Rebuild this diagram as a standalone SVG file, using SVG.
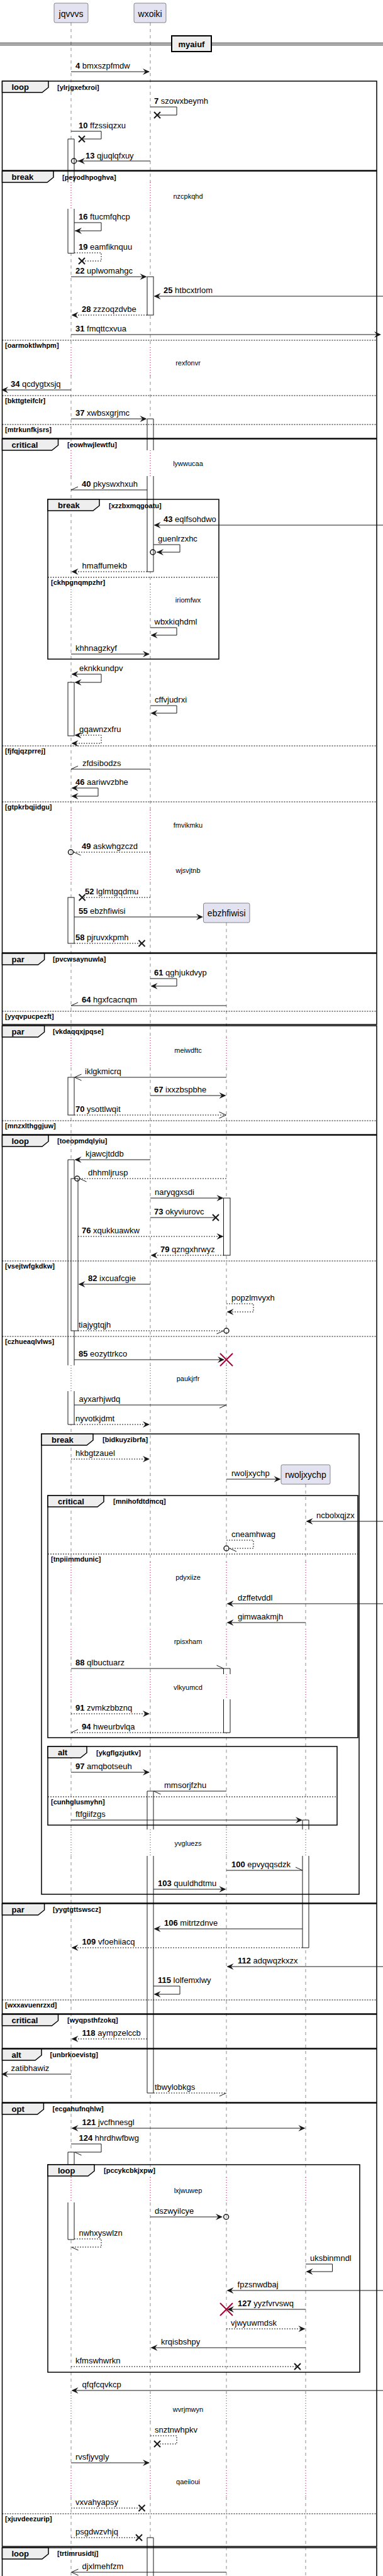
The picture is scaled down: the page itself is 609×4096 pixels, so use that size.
<svg xmlns="http://www.w3.org/2000/svg" width="609" height="4096" viewBox="0 0 609 4096">
<style>
.ll{stroke:#181818;stroke-width:0.5;stroke-dasharray:5,5;fill:none}
.dl{stroke:#A80036;stroke-width:1;stroke-dasharray:1,3;fill:none}
.act{fill:#fff;stroke:#181818;stroke-width:1}
.m{stroke:#181818;stroke-width:1;fill:none}
.d{stroke-dasharray:2,2}
.fr{fill:none;stroke:#000;stroke-width:1.5}
.tab{fill:#EEEEEE;stroke:#000;stroke-width:1.5}
.sep{stroke:#000;stroke-width:1;stroke-dasharray:2,2}
text{font-family:"Liberation Sans",Arial,sans-serif;fill:#000}
.t{font-size:13px}
.n{font-weight:bold}
.kw{font-size:13px;font-weight:bold}
.cond{font-size:11px;font-weight:bold}
.dt{font-size:11px;text-anchor:middle}
.pt{font-size:14px;text-anchor:middle}
.box{fill:#E2E2F0;stroke:#181818;stroke-width:0.5}
.c{fill:none;stroke:#181818;stroke-width:1.5}
</style>
<defs>
<path id="fa" d="M0,0 L-11,-5 L-7,0 L-11,5 Z" fill="#181818"/>
<path id="fal" d="M0,0 L11,-5 L7,0 L11,5 Z" fill="#181818"/>
<path id="oa" d="M-11,-5 L0,0 L-11,5" fill="none" stroke="#181818"/>
<path id="oal" d="M11,-5 L0,0 L11,5" fill="none" stroke="#181818"/>
<path id="hu" d="M-11,-5 L0,0" fill="none" stroke="#181818"/>
<path id="hl" d="M-11,5 L0,0" fill="none" stroke="#181818"/>
<path id="hul" d="M11,-5 L0,0" fill="none" stroke="#181818"/>
<path id="hll" d="M11,5 L0,0" fill="none" stroke="#181818"/>
<path id="lx" d="M-5,-5 L5,5 M-5,5 L5,-5" fill="none" stroke="#181818" stroke-width="2"/>
<path id="rx" d="M-10,-10 L10,10 M-10,10 L10,-10" fill="none" stroke="#A80036" stroke-width="2"/>
</defs>
<rect width="609" height="4096" fill="#fff"/>

<g id="lifelines">
<path class="ll" d="M113,36V290M113,332V552M113,597V716M113,757V929M113,973V1288M113,1333V1358M113,1402V1650M113,1697V2171M113,2212V2484M113,2530V2590M113,2634V2662M113,2702V2909M113,2951V3462M113,3502V3805M113,3850V3928M113,3970V4096"/>
<path class="ll" d="M239,36V290M239,332V552M239,597V716M239,757V929M239,973V1288M239,1333V1358M239,1402V1650M239,1697V2171M239,2212V2484M239,2530V2590M239,2634V2662M239,2702V2909M239,2951V3462M239,3502V3805M239,3850V3928M239,3970V4096"/>
<path class="ll" d="M360,1467V1650M360,1697V2171M360,2212V2484M360,2530V2590M360,2634V2662M360,2702V2909M360,2951V3462M360,3502V3805M360,3850V3928M360,3970V4096"/>
<path class="ll" d="M486,2360V2484M486,2530V2590M486,2634V2662M486,2702V2909M486,2951V3462M486,3502V3805M486,3850V3928M486,3970V4096"/>
</g>

<g id="delays">
<path class="dl" d="M113,290V332M239,290V332M113,552V597M239,552V597M113,716V757M239,716V757M113,929V973M239,929V973M113,1288V1333M239,1288V1333M113,1358V1402M239,1358V1402M113,1650V1697M239,1650V1697M360,1650V1697M113,2171V2212M239,2171V2212M360,2171V2212M113,2484V2530M239,2484V2530M360,2484V2530M486,2484V2530M113,2590V2634M239,2590V2634M360,2590V2634M486,2590V2634M113,2662V2702M239,2662V2702M360,2662V2702M486,2662V2702M113,2909V2951M239,2909V2951M360,2909V2951M486,2909V2951M113,3462V3502M239,3462V3502M360,3462V3502M486,3462V3502M113,3805V3850M239,3805V3850M360,3805V3850M486,3805V3850M113,3928V3970M239,3928V3970M360,3928V3970M486,3928V3970"/>
<text class="dt" x="299" y="316">nzcpkqhd</text>
<text class="dt" x="299" y="581">rexfonvr</text>
<text class="dt" x="299" y="741">lywwucaa</text>
<text class="dt" x="299" y="958">iriomfwx</text>
<text class="dt" x="299" y="1316">fmvikmku</text>
<text class="dt" x="299" y="1388">wjsvjtnb</text>
<text class="dt" x="299" y="1674">meiwdftc</text>
<text class="dt" x="299" y="2196">paukjrfr</text>
<text class="dt" x="299" y="2512">pdyxiize</text>
<text class="dt" x="299" y="2614">rpisxham</text>
<text class="dt" x="299" y="2687">vlkyumcd</text>
<text class="dt" x="299" y="2935">yvgluezs</text>
<text class="dt" x="299" y="3487">lxjwuwep</text>
<text class="dt" x="299" y="3835">wvrjmwyn</text>
<text class="dt" x="299" y="3950">qaeiioui</text>
</g>

<g id="activations">
<path class="act" d="M108,290V221H118V290"/>
<path class="act" d="M108,332V402.7H118V332"/>
<rect class="act" x="108" y="1085" width="10" height="85"/>
<rect class="act" x="108" y="1427" width="10" height="73"/>
<rect class="act" x="108" y="1713" width="10" height="60"/>
<path class="act" d="M108,2171V1844H118V2171"/>
<path class="act" d="M108,2212V2265H118V2212"/>
<rect class="act" x="113" y="1874" width="11" height="242"/>
<path class="act" d="M108,3442V3422H118V3442"/>
<path class="act" d="M108,3502V3561H118V3502"/>
<rect class="act" x="234" y="440" width="10" height="61"/>
<path class="act" d="M234,716V666H244V716"/>
<path class="act" d="M234,757V909H244V757"/>
<path class="act" d="M234,2909V2848H244V2909"/>
<path class="act" d="M234,2951V3328H244V2951"/>
<path class="act" d="M234,4100V4035H244V4100"/>
<rect class="act" x="355.5" y="1905" width="10.5" height="91"/>
<path class="act" d="M355.5,2662V2653H366V2662"/>
<path class="act" d="M355.5,2702V2755H366V2702"/>
<path class="act" d="M481,2909V2894H491V2909"/>
<path class="act" d="M481,2951V3097H491V2951"/>
</g>

<g id="frames">
<rect class="fr" x="3.5" y="129" width="595.5" height="142"/>
<polygon class="tab" points="3.5,129 77,129 77,139 67,147 3.5,147"/>
<text class="kw" x="18.5" y="143">loop</text><text class="cond" x="91" y="142.5">[ylrjgxefxroi]</text>

<rect class="fr" x="3.5" y="272" width="595.5" height="425"/>
<polygon class="tab" points="3.5,272 85,272 85,282 75,290 3.5,290"/>
<text class="kw" x="18.5" y="286">break</text><text class="cond" x="99" y="285.5">[peyodhpoghva]</text>
<path class="sep" d="M3.5,541H599M3.5,629H599M3.5,675H599"/>
<text class="cond" x="8" y="552.5">[oarmoktlwhpm]</text>
<text class="cond" x="8" y="640.5">[bkttgteifclr]</text>
<text class="cond" x="8" y="686.5">[mtrkunfkjsrs]</text>

<rect class="fr" x="3.5" y="698" width="595.5" height="817"/>
<polygon class="tab" points="3.5,698 92.5,698 92.5,708 82.5,716 3.5,716"/>
<text class="kw" x="18.5" y="712">critical</text><text class="cond" x="107" y="711">[eowhwjlewtfu]</text>
<path class="sep" d="M3.5,1186H599M3.5,1275H599"/>
<text class="cond" x="8" y="1197.5">[fjfqjqzprrej]</text>
<text class="cond" x="8" y="1286.5">[gtpkrbqjidgu]</text>

<rect class="fr" x="76" y="794" width="272" height="254"/>
<polygon class="tab" points="76,794 158,794 158,804 148,812 76,812"/>
<text class="kw" x="92" y="808">break</text><text class="cond" x="173" y="807.5">[xzzbxmqgoatu]</text>
<path class="sep" d="M76,918H348"/>
<text class="cond" x="81" y="929.5">[ckhpgnqmpzhr]</text>

<rect class="fr" x="3.5" y="1516" width="595.5" height="113"/>
<polygon class="tab" points="3.5,1516 70.6,1516 70.6,1526 60.6,1534 3.5,1534"/>
<text class="kw" x="18.5" y="1530">par</text><text class="cond" x="84" y="1529">[pvcwsaynuwla]</text>
<path class="sep" d="M3.5,1608H599"/>
<text class="cond" x="8" y="1619.5">[yyqvpucpezft]</text>

<rect class="fr" x="3.5" y="1631" width="595.5" height="173"/>
<polygon class="tab" points="3.5,1631 70.6,1631 70.6,1641 60.6,1649 3.5,1649"/>
<text class="kw" x="18.5" y="1645">par</text><text class="cond" x="84" y="1644">[vkdaqqxjpqse]</text>
<path class="sep" d="M3.5,1782H599"/>
<text class="cond" x="8" y="1793.5">[mnzxlthggjuw]</text>

<rect class="fr" x="3.5" y="1805" width="595.5" height="1221"/>
<polygon class="tab" points="3.5,1805 77,1805 77,1815 67,1823 3.5,1823"/>
<text class="kw" x="18.5" y="1819">loop</text><text class="cond" x="91" y="1818">[toeopmdqlyiu]</text>
<path class="sep" d="M3.5,2005H599M3.5,2125H599"/>
<text class="cond" x="8" y="2016.5">[vsejtwfgkdkw]</text>
<text class="cond" x="8" y="2136.5">[czhueaqlvlws]</text>

<rect class="fr" x="66" y="2280" width="505" height="732"/>
<polygon class="tab" points="66,2280 148,2280 148,2290 138,2298 66,2298"/>
<text class="kw" x="82" y="2294">break</text><text class="cond" x="163" y="2293">[bidkuyzibrfa]</text>

<rect class="fr" x="76" y="2378" width="493" height="385"/>
<polygon class="tab" points="76,2378 165,2378 165,2388 155,2396 76,2396"/>
<text class="kw" x="92" y="2392">critical</text><text class="cond" x="180" y="2391">[mnihofdtdmcq]</text>
<path class="sep" d="M76,2471H569"/>
<text class="cond" x="81" y="2482.5">[tnpiimmdunic]</text>

<rect class="fr" x="76" y="2777" width="460" height="125"/>
<polygon class="tab" points="76,2777 138,2777 138,2787 128,2795 76,2795"/>
<text class="kw" x="92" y="2791">alt</text><text class="cond" x="153" y="2790.5">[ykgflgzjutkv]</text>
<path class="sep" d="M76,2857H536"/>
<text class="cond" x="81" y="2868.5">[cunhglusmyhn]</text>

<rect class="fr" x="3.5" y="3027" width="595.5" height="175"/>
<polygon class="tab" points="3.5,3027 70.6,3027 70.6,3037 60.6,3045 3.5,3045"/>
<text class="kw" x="18.5" y="3041">par</text><text class="cond" x="84" y="3040">[yygtgttswscz]</text>
<path class="sep" d="M3.5,3180H599"/>
<text class="cond" x="8" y="3191.5">[wxxavuenrzxd]</text>

<rect class="fr" x="3.5" y="3203" width="595.5" height="54"/>
<polygon class="tab" points="3.5,3203 92.5,3203 92.5,3213 82.5,3221 3.5,3221"/>
<text class="kw" x="18.5" y="3217">critical</text><text class="cond" x="107" y="3216">[wyqpsthfzokq]</text>

<rect class="fr" x="3.5" y="3258" width="595.5" height="85"/>
<polygon class="tab" points="3.5,3258 66,3258 66,3268 56,3276 3.5,3276"/>
<text class="kw" x="18.5" y="3272">alt</text><text class="cond" x="79.6" y="3271">[unbrkoevistg]</text>

<rect class="fr" x="3.5" y="3344" width="595.5" height="705"/>
<polygon class="tab" points="3.5,3344 69.4,3344 69.4,3354 59.4,3362 3.5,3362"/>
<text class="kw" x="18.5" y="3358">opt</text><text class="cond" x="83.5" y="3357">[ecgahufnqhlw]</text>
<path class="sep" d="M3.5,3997H599"/>
<text class="cond" x="8" y="4008.5">[xjuvdeezurip]</text>

<rect class="fr" x="76" y="3442" width="496" height="330"/>
<polygon class="tab" points="76,3442 150,3442 150,3452 140,3460 76,3460"/>
<text class="kw" x="92" y="3456">loop</text><text class="cond" x="165" y="3455">[pccykcbkjxpw]</text>

<rect class="fr" x="3.5" y="4051" width="595.5" height="70"/>
<polygon class="tab" points="3.5,4051 77,4051 77,4061 67,4069 3.5,4069"/>
<text class="kw" x="18.5" y="4065">loop</text><text class="cond" x="91" y="4064">[trtimrusidtj]</text>
</g>

<g id="divider-myaiuf">
<path d="M0,68.5H609M0,71.5H609" stroke="#000" stroke-width="1"/>
<rect x="273" y="57" width="63" height="25" fill="#EEEEEE" stroke="#000" stroke-width="2"/>
<text class="kw" x="304.5" y="74.5" text-anchor="middle">myaiuf</text>
</g>

<g id="jqvvvs">
<rect class="box" x="86" y="5" width="54" height="31" rx="2.5"/>
<text class="pt" x="113" y="27">jqvvvs</text>
</g>
<g id="wxoiki">
<rect class="box" x="213" y="5" width="51" height="31" rx="2.5"/>
<text class="pt" x="238.6" y="27">wxoiki</text>
</g>
<g id="ebzhfiwisi">
<rect class="box" x="323.5" y="1436" width="73.5" height="31" rx="2.5"/>
<text class="pt" x="360.2" y="1456.5">ebzhfiwisi</text>
</g>
<g id="rwoljxychp">
<rect class="box" x="447" y="2329" width="78" height="31" rx="2.5"/>
<text class="pt" x="486" y="2349.5">rwoljxychp</text>
</g>

<g id="connectors">
<path class="m" d="M113,114H237"/><use href="#fa" x="238" y="114"/>
<text class="t" x="120" y="108.5"><tspan class="n">4</tspan> bmxszpfmdw</text>

<path class="m" d="M239,170H281V183H250"/><use href="#lx" x="250" y="183"/>
<text class="t" x="245" y="165"><tspan class="n">7</tspan> szowxbeymh</text>

<path class="m" d="M113,208.7H161V221H130"/><use href="#lx" x="130" y="221"/>
<text class="t" x="125" y="203.5"><tspan class="n">10</tspan> ffzssiqzxu</text>

<path class="m" d="M239,256H121.5"/><circle class="c" cx="117.5" cy="256" r="4"/><use href="#fal" x="124" y="256"/>
<text class="t" x="136" y="251.5"><tspan class="n">13</tspan> qjuqlqfxuy</text>

<path class="m" d="M118,354H161V367H119"/><use href="#fal" x="119" y="367"/>
<text class="t" x="125" y="349"><tspan class="n">16</tspan> ftucmfqhcp</text>

<path class="m d" d="M118,402H161V415H130"/><use href="#lx" x="130" y="415"/>
<text class="t" x="125" y="397"><tspan class="n">19</tspan> eamfiknquu</text>

<path class="m" d="M113,440H232"/><use href="#fa" x="233.5" y="440"/>
<text class="t" x="120" y="435"><tspan class="n">22</tspan> uplwomahgc</text>

<path class="m" d="M609,471H246"/><use href="#fal" x="244.5" y="471"/>
<text class="t" x="260" y="466"><tspan class="n">25</tspan> htbcxtrlom</text>

<path class="m d" d="M234,501H115"/><use href="#fal" x="113.5" y="501"/>
<text class="t" x="130" y="496"><tspan class="n">28</tspan> zzzoqzdvbe</text>

<path class="m" d="M113,532H604"/><use href="#fa" x="606" y="532"/>
<text class="t" x="120" y="527"><tspan class="n">31</tspan> fmqttcxvua</text>

<path class="m" d="M113,620H4"/><use href="#fal" x="2" y="620"/>
<text class="t" x="17" y="615"><tspan class="n">34</tspan> qcdygtxsjq</text>

<path class="m" d="M113,666H232"/><use href="#fa" x="233.5" y="666"/>
<text class="t" x="120" y="661"><tspan class="n">37</tspan> xwbsxgrjmc</text>

<path class="m" d="M234,779H113"/><use href="#hul" x="113" y="779"/>
<text class="t" x="130" y="774"><tspan class="n">40</tspan> pkyswxhxuh</text>

<path class="m" d="M609,835H246"/><use href="#fal" x="244.5" y="835"/>
<text class="t" x="260" y="830"><tspan class="n">43</tspan> eqlfsohdwo</text>

<path class="m" d="M244,866H286V878H249"/><circle class="c" cx="243" cy="878" r="4"/><use href="#fal" x="249" y="878"/>
<text class="t" x="251" y="861">guenlrzxhc</text>

<path class="m d" d="M234,909H115"/><use href="#fal" x="113.5" y="909"/>
<text class="t" x="130.6" y="904">hmaffumekb</text>

<path class="m" d="M239,998H281V1010H241"/><use href="#fal" x="239.5" y="1010"/>
<text class="t" x="245.5" y="992.5">wbxkiqhdml</text>

<path class="m" d="M113,1040H237"/><use href="#fa" x="238" y="1040"/>
<text class="t" x="120" y="1035">khhnagzkyf</text>

<use href="#fal" x="113.5" y="1072"/><path class="m" d="M115,1072H161V1085H120"/><use href="#fal" x="118.5" y="1085"/>
<text class="t" x="126" y="1067">eknkkundpv</text>

<path class="m" d="M239,1122H281V1134H241"/><use href="#fal" x="239.5" y="1134"/>
<text class="t" x="246" y="1117">cffvjudrxi</text>

<use href="#fal" x="118.5" y="1169"/><path class="m d" d="M120,1169H161V1182H115"/><use href="#fal" x="113.5" y="1182"/>
<text class="t" x="126" y="1164">gqawnzxfru</text>

<path class="m" d="M239,1223H113"/><use href="#hul" x="113" y="1223"/>
<text class="t" x="131" y="1218">zfdsibodzs</text>

<use href="#fal" x="113.5" y="1253"/><path class="m" d="M115,1253H156V1266H115"/><use href="#fal" x="113.5" y="1266"/>
<text class="t" x="120" y="1248"><tspan class="n">46</tspan> aariwvzbhe</text>

<path class="m d" d="M239,1355H117"/><circle class="c" cx="112.5" cy="1355" r="4"/><use href="#hll" x="117.5" y="1355"/>
<text class="t" x="130" y="1350"><tspan class="n">49</tspan> askwhgzczd</text>

<path class="m d" d="M239,1427H131"/><use href="#lx" x="130.6" y="1427"/>
<text class="t" x="135" y="1422"><tspan class="n">52</tspan> lglmtgqdmu</text>

<path class="m" d="M118,1458H321"/><use href="#fa" x="323" y="1458"/>
<text class="t" x="125" y="1453"><tspan class="n">55</tspan> ebzhfiwisi</text>

<path class="m d" d="M118,1500H225.5"/><use href="#lx" x="225.5" y="1500"/>
<text class="t" x="120" y="1494.5"><tspan class="n">58</tspan> pjruvxkpmh</text>

<path class="m" d="M239,1556H281V1568H241"/><use href="#fal" x="239.5" y="1568"/>
<text class="t" x="245" y="1551"><tspan class="n">61</tspan> qghjukdvyp</text>

<path class="m" d="M360,1599H113"/><use href="#hul" x="113" y="1599"/>
<text class="t" x="130" y="1594"><tspan class="n">64</tspan> hgxfcacnqm</text>

<path class="m" d="M360,1713H119"/><use href="#oal" x="118.5" y="1713"/>
<text class="t" x="135" y="1708">iklgkmicrq</text>

<path class="m" d="M239,1742H358"/><use href="#fa" x="359.5" y="1742"/>
<text class="t" x="245" y="1737"><tspan class="n">67</tspan> ixxzbspbhe</text>

<path class="m d" d="M118,1773H359"/><use href="#oa" x="359.5" y="1773"/>
<text class="t" x="120" y="1768"><tspan class="n">70</tspan> ysottlwqit</text>

<path class="m" d="M239,1844H120"/><use href="#fal" x="118.5" y="1844"/>
<text class="t" x="136" y="1839">kjawcjtddb</text>

<path class="m d" d="M360,1874H127"/><circle class="c" cx="122.7" cy="1874" r="4"/><use href="#hll" x="126.5" y="1874"/>
<text class="t" x="140" y="1869">dhhmljrusp</text>

<path class="m" d="M239,1905H354"/><use href="#fa" x="355.5" y="1905"/>
<text class="t" x="246" y="1900">naryqgxsdi</text>

<path class="m" d="M239,1936H343"/><use href="#lx" x="343" y="1936"/>
<text class="t" x="245" y="1931"><tspan class="n">73</tspan> okyviurovc</text>

<path class="m d" d="M124,1966H354"/><use href="#fa" x="355.5" y="1966"/>
<text class="t" x="130" y="1961"><tspan class="n">76</tspan> xqukkuawkw</text>

<path class="m d" d="M356,1996H241"/><use href="#fal" x="239.5" y="1996"/>
<text class="t" x="255" y="1991"><tspan class="n">79</tspan> qzngxhrwyz</text>

<path class="m" d="M239,2042H126"/><use href="#fal" x="124.5" y="2042"/>
<text class="t" x="140" y="2037"><tspan class="n">82</tspan> ixcuafcgie</text>

<path class="m d" d="M360,2073H403V2086H362"/><use href="#fal" x="360.5" y="2086"/>
<text class="t" x="368" y="2068">popzlmvyxh</text>

<path class="m d" d="M124,2116H356"/><use href="#hl" x="355.5" y="2116"/><circle class="c" cx="360" cy="2116" r="4"/>
<text class="t" x="125" y="2111">tiajygtqjh</text>

<path class="m" d="M118,2162H355"/><use href="#fa" x="357" y="2162"/><use href="#rx" x="360" y="2162"/>
<text class="t" x="125" y="2157"><tspan class="n">85</tspan> eozyttrkco</text>

<path class="m" d="M118,2234H360"/><use href="#hl" x="360" y="2234"/>
<text class="t" x="125.5" y="2229">ayxarhjwdq</text>

<path class="m d" d="M118,2265H237"/><use href="#fa" x="238" y="2265"/>
<text class="t" x="120" y="2260">nyvotkjdmt</text>

<path class="m d" d="M113,2320H237"/><use href="#fa" x="238" y="2320"/>
<text class="t" x="120" y="2315">hkbgtzauel</text>

<path class="m" d="M360,2352H445"/><use href="#fa" x="446.5" y="2352"/>
<text class="t" x="368" y="2347">rwoljxychp</text>

<path class="m" d="M609,2419H488"/><use href="#fal" x="486.5" y="2419"/>
<text class="t" x="503" y="2414">ncbolxqjzx</text>

<path class="m d" d="M360,2449H403V2462H366"/><circle class="c" cx="360" cy="2462" r="4"/><use href="#hll" x="365" y="2462"/>
<text class="t" x="368" y="2444">cneamhwag</text>

<path class="m" d="M609,2550H362"/><use href="#fal" x="360.5" y="2550"/>
<text class="t" x="378" y="2545">dzffetvddl</text>

<path class="m" d="M486,2580H362"/><use href="#fal" x="360.5" y="2580"/>
<text class="t" x="378" y="2575">gimwaakmjh</text>

<path class="m" d="M113,2653H355.5"/><use href="#hu" x="355.5" y="2653"/>
<text class="t" x="120" y="2648"><tspan class="n">88</tspan> qlbuctuarz</text>

<path class="m d" d="M113,2725H237"/><use href="#fa" x="238" y="2725"/>
<text class="t" x="120" y="2720"><tspan class="n">91</tspan> zvmkzbbznq</text>

<path class="m d" d="M356,2755H113"/><use href="#hul" x="113" y="2755"/>
<text class="t" x="130" y="2750"><tspan class="n">94</tspan> hweurbvlqa</text>

<path class="m" d="M113,2818H237"/><use href="#fa" x="238" y="2818"/>
<text class="t" x="120" y="2813"><tspan class="n">97</tspan> amqbotseuh</text>

<path class="m" d="M360,2848H244"/><use href="#hll" x="244.5" y="2848"/>
<text class="t" x="261" y="2843">mmsorjfzhu</text>

<path class="m" d="M113,2894H479"/><use href="#fa" x="481" y="2894"/>
<text class="t" x="120" y="2889">ftfgiifzgs</text>

<path class="m" d="M360,2974H481"/><use href="#hu" x="481" y="2974"/>
<text class="t" x="368" y="2969"><tspan class="n">100</tspan> epvyqqsdzk</text>

<path class="m" d="M244,3004H358"/><use href="#fa" x="359.5" y="3004"/>
<text class="t" x="251" y="2999"><tspan class="n">103</tspan> quuldhdtmu</text>

<path class="m" d="M481,3067H246"/><use href="#fal" x="244.5" y="3067"/>
<text class="t" x="261" y="3062"><tspan class="n">106</tspan> mitrtzdnve</text>

<path class="m d" d="M481,3097H115"/><use href="#fal" x="113.5" y="3097"/>
<text class="t" x="130.6" y="3092"><tspan class="n">109</tspan> vfoehiiacq</text>

<path class="m" d="M609,3127H362"/><use href="#fal" x="360.5" y="3127"/>
<text class="t" x="378" y="3122"><tspan class="n">112</tspan> adqwqzkxzx</text>

<path class="m" d="M244,3158H286V3171H246"/><use href="#fal" x="244.5" y="3171"/>
<text class="t" x="251" y="3153"><tspan class="n">115</tspan> lolfemxlwy</text>

<path class="m d" d="M234,3242H115"/><use href="#fal" x="113.5" y="3242"/>
<text class="t" x="130.6" y="3237"><tspan class="n">118</tspan> aympzelccb</text>

<path class="m" d="M113,3298H4"/><use href="#fal" x="2" y="3298"/>
<text class="t" x="17.6" y="3293">zatibhawiz</text>

<path class="m d" d="M244,3328H360"/><use href="#hl" x="360" y="3328"/>
<text class="t" x="246" y="3323">tbwylobkgs</text>

<path class="m" d="M115,3384H484"/><use href="#fal" x="113.5" y="3384"/><use href="#fa" x="485.5" y="3384"/>
<text class="t" x="130.6" y="3379"><tspan class="n">121</tspan> jvcfhnesgl</text>

<path class="m" d="M113,3409H161V3422H118.5"/><use href="#hll" x="118.5" y="3422"/>
<text class="t" x="125.5" y="3404"><tspan class="n">124</tspan> hhrdhwfbwg</text>

<path class="m" d="M239,3525H352"/><use href="#fa" x="354" y="3525"/><circle class="c" cx="359.6" cy="3525" r="4"/>
<text class="t" x="246" y="3520">dszwyilcye</text>

<path class="m d" d="M118,3560H161V3573H113.5"/><use href="#hll" x="113.5" y="3573"/>
<text class="t" x="125.5" y="3555">nwhxyswlzn</text>

<path class="m" d="M486,3600H528.6V3612H488"/><use href="#fal" x="486.5" y="3612"/>
<text class="t" x="493" y="3595">uksbinmndl</text>

<path class="m" d="M609,3642H362"/><use href="#fal" x="360.5" y="3642"/>
<text class="t" x="377.6" y="3637">fpzsnwdbaj</text>

<path class="m" d="M486,3672H363"/><use href="#fal" x="361" y="3672"/><use href="#rx" x="360" y="3672"/>
<text class="t" x="378" y="3667"><tspan class="n">127</tspan> yyzfvrvswq</text>

<path class="m d" d="M360,3703H484"/><use href="#fa" x="485.5" y="3703"/>
<text class="t" x="367" y="3698">vjwyuwmdsk</text>

<path class="m" d="M486,3733H241"/><use href="#fal" x="239.5" y="3733"/>
<text class="t" x="256" y="3728">krqisbshpy</text>

<path class="m d" d="M113,3763H473"/><use href="#lx" x="473" y="3763"/>
<text class="t" x="120" y="3758">kfmswhwrkn</text>

<path class="m" d="M609,3801H115"/><use href="#fal" x="113.5" y="3801"/>
<text class="t" x="130.6" y="3796">qfqfcqvkcp</text>

<path class="m d" d="M239,3873H281V3886H250"/><use href="#lx" x="250" y="3886"/>
<text class="t" x="246" y="3868">snztnwhpkv</text>

<path class="m" d="M113,3916H237"/><use href="#fa" x="238" y="3916"/>
<text class="t" x="120" y="3911">rvsfjyvgly</text>

<path class="m d" d="M113,3988H225.5"/><use href="#lx" x="225.5" y="3988"/>
<text class="t" x="120" y="3983">vxvahyapsy</text>

<path class="m d" d="M113,4035H221"/><use href="#lx" x="221" y="4035"/>
<text class="t" x="120" y="4030">psgdwzvhjq</text>

<path class="m" d="M360,4090H114"/><use href="#oal" x="113.5" y="4090"/>
<text class="t" x="130.6" y="4085">djxlmehfzm</text>
</g>
</svg>
